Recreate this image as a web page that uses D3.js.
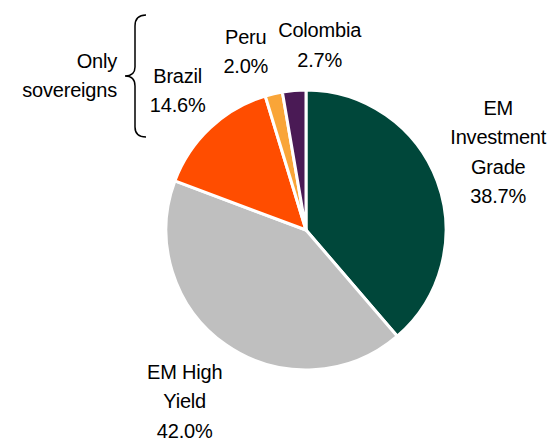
<!DOCTYPE html>
<style>
body { margin: 0; background: #fff; }
svg { font-family: "Liberation Sans", Arial, sans-serif; }
</style>
<svg width="553" height="442"></svg>
<script src="https://d3js.org/d3.v7.min.js"></script>
<script>

// data
var categories = ["EM Investment Grade", "EM High Yield", "Brazil", "Peru", "Colombia"];
var shares = [38.7, 42.0, 14.6, 2.0, 2.7];
var labelLines = [["EM", "Investment", "Grade"], ["EM High", "Yield"], ["Brazil"], ["Peru"], ["Colombia"]];
var colors = ["#00473a", "#bfbfbf", "#ff4d00", "#f9a538", "#4a1a55"];

var svg = d3.select("svg"),
    cx = 306, cy = 230, radius = 140;

var pie = d3.pie().sort(null).value(function(d) { return d; });
var arc = d3.arc().innerRadius(0).outerRadius(radius);
var labelArc = d3.arc().innerRadius(205).outerRadius(205);

var arcs = pie(shares);
var g = svg.append("g").attr("transform", "translate(" + cx + "," + cy + ")");

g.selectAll("path")
    .data(arcs)
  .enter().append("path")
    .attr("d", arc)
    .attr("fill", function(d, i) { return colors[i]; })
    .attr("stroke", "#fff")
    .attr("stroke-width", 3)
    .attr("stroke-linejoin", "round");

// small nudges so labels sit where the original has them
var nudge = [[0, -7], [-4, 3], [12, 10], [-13, 21], [31, 19]];
var lh = 29.5;

g.selectAll("text.lab")
    .data(arcs)
  .enter().append("text")
    .attr("class", "lab")
    .attr("text-anchor", "middle")
    .attr("font-size", 20)
    .attr("letter-spacing", -0.2)
    .attr("fill", "#000")
    .each(function(d, i) {
      var c = labelArc.centroid(d);
      var x = c[0] + nudge[i][0], y = c[1] + nudge[i][1];
      var lines = labelLines[i].concat([d3.format(".1f")(shares[i]) + "%"]);
      var y0 = y - (lines.length - 1) * lh / 2 + 7;
      d3.select(this).selectAll("tspan")
          .data(lines)
        .enter().append("tspan")
          .attr("x", x)
          .attr("y", function(t, j) { return y0 + j * lh; })
          .text(function(t) { return t; });
    });

// "Only sovereigns" note with brace
svg.append("text")
    .attr("text-anchor", "end")
    .attr("font-size", 20)
    .attr("letter-spacing", -0.2)
    .selectAll("tspan")
    .data(["Only", "sovereigns"])
  .enter().append("tspan")
    .attr("x", 117)
    .attr("y", function(d, i) { return 68 + i * 29; })
    .text(function(d) { return d; });

var p = d3.path();
p.moveTo(146, 15);
p.quadraticCurveTo(135, 15, 135, 26);
p.lineTo(135, 67);
p.quadraticCurveTo(135, 76, 125, 76);
p.quadraticCurveTo(135, 76, 135, 86);
p.lineTo(135, 127);
p.quadraticCurveTo(135, 137, 146, 137);
svg.append("path")
    .attr("d", p.toString())
    .attr("fill", "none")
    .attr("stroke", "#000")
    .attr("stroke-width", 1.5);

</script>
